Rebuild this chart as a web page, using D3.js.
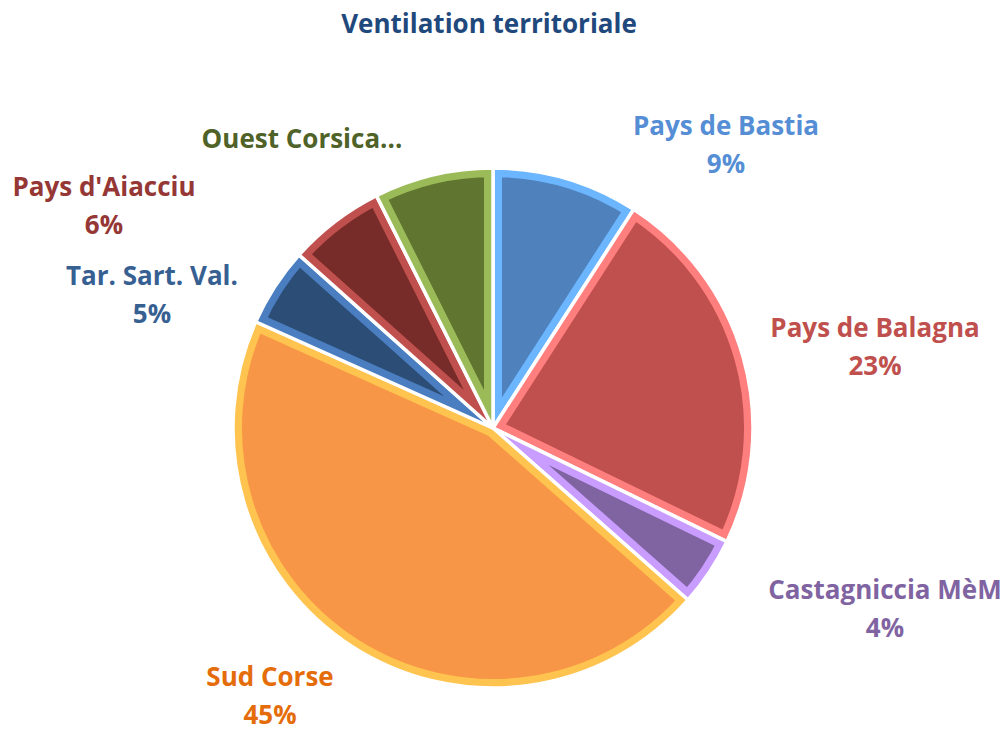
<!DOCTYPE html>
<html>
<head>
<meta charset="utf-8">
<script src="https://cdn.jsdelivr.net/npm/d3@7"></script>
<style>
  body { margin: 0; background: #ffffff; }
  svg { display: block; }
</style>
</head>
<body>
<div id="chart"></div>
<script>
// Données
var categories = ["Pays de Bastia", "Pays de Balagna", "Castagniccia MèM", "Sud Corse", "Tar. Sart. Val.", "Pays d'Aiacciu", "Ouest Corsica..."];
var values = [9.1, 23.1, 4.3, 45.2, 4.9, 6.0, 7.4];
var showPct = [true, true, true, true, true, true, false];

// couleurs : remplissage, biseau, texte
var fillColors = ["#4f81bd", "#c0504d", "#8064a2", "#f79646", "#2c4d75", "#772c2a", "#5f7530"];
var bevelColors = ["#6cb6ff", "#ff7f7f", "#c99cff", "#ffc34f", "#4a7ec0", "#c0504d", "#9bbb59"];
var textColors = ["#558ed5", "#c0504d", "#8064a2", "#e46c0a", "#376092", "#953735", "#4f6228"];

// emplacement des étiquettes (centre de la première ligne)
var labelSpots = [[726, 126], [875, 328], [885, 590], [270, 677], [152, 276], [104, 187], [302, 139]];

var W = 1008, H = 731;
var cx = 493, cy = 428, radius = 260;
var font = "'Open Sans', sans-serif";

var svg = d3.select("#chart").append("svg")
    .attr("width", W)
    .attr("height", H);

svg.append("text")
    .attr("x", 489)
    .attr("y", 33)
    .attr("text-anchor", "middle")
    .style("font-family", font)
    .style("font-size", "26px")
    .style("font-weight", "bold")
    .style("fill", "#1f497d")
    .text("Ventilation territoriale");

var pie = d3.pie().sort(null).value(d => d);
var arcs = pie(values);

var arc = d3.arc().innerRadius(0).outerRadius(radius);

var g = svg.append("g").attr("transform", `translate(${cx},${cy})`);
var defs = svg.append("defs");

arcs.forEach(function(a, i) {
    defs.append("clipPath").attr("id", "clip" + i)
        .append("path").attr("d", arc(a));
});

var slices = g.selectAll(".slice")
    .data(arcs)
    .enter().append("g")
    .attr("class", "slice");

// remplissage principal
slices.append("path")
    .attr("d", arc)
    .style("fill", (d, i) => fillColors[i]);

// biseau intérieur (trait découpé par la forme de la part)
slices.append("path")
    .attr("d", arc)
    .attr("clip-path", (d, i) => "url(#clip" + i + ")")
    .style("fill", "none")
    .style("stroke", (d, i) => bevelColors[i])
    .style("stroke-width", 18)
    .style("stroke-linejoin", "miter");

// séparateurs blancs
slices.append("path")
    .attr("d", arc)
    .style("fill", "none")
    .style("stroke", "#ffffff")
    .style("stroke-width", 3.5)
    .style("stroke-linejoin", "round");

// étiquettes
var labels = svg.selectAll(".label")
    .data(arcs)
    .enter().append("text")
    .attr("class", "label")
    .attr("text-anchor", "middle")
    .attr("x", (d, i) => labelSpots[i][0])
    .attr("y", (d, i) => labelSpots[i][1])
    .style("font-family", font)
    .style("font-size", "26px")
    .style("font-weight", "bold")
    .style("fill", (d, i) => textColors[i]);

labels.append("tspan")
    .attr("x", (d, i) => labelSpots[i][0])
    .attr("dy", "0.35em")
    .text((d, i) => categories[i]);

labels.filter((d, i) => showPct[i])
    .append("tspan")
    .attr("x", (d, i) => labelSpots[i][0])
    .attr("dy", "1.45em")
    .text(d => Math.round(d.value) + "%");
</script>
</body>
</html>
